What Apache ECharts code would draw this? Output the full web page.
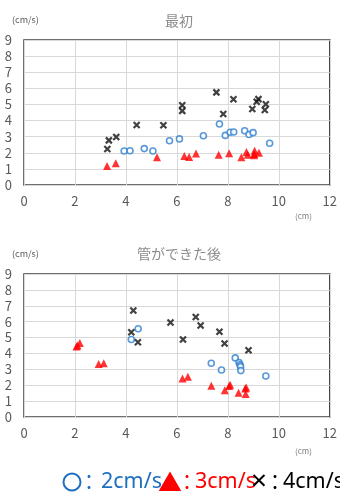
<!DOCTYPE html>
<html><head><meta charset="utf-8">
<script src="https://cdn.jsdelivr.net/npm/echarts@6/dist/echarts.min.js"></script>
<style>html,body{margin:0;padding:0;background:#fff}#c{width:340px;height:493px}</style>
</head><body><div id="c"></div>
<script>
// Chart 1: 最初
const title1 = '最初';
const c1_2cm = [[3.93,2.11],[4.16,2.13],[4.72,2.26],[5.06,2.11],[5.71,2.75],[6.10,2.86],[7.04,3.06],[7.67,3.79],[7.90,3.08],[8.09,3.27],[8.23,3.29],[8.66,3.37],[8.83,3.13],[8.99,3.25],[9.64,2.59]];
const c1_3cm = [[3.26,1.18],[3.60,1.35],[5.22,1.72],[6.29,1.80],[6.48,1.74],[6.75,1.95],[7.64,1.88],[8.05,1.97],[8.53,1.72],[8.73,2.05],[8.78,1.88],[9.03,1.93],[9.05,2.13],[9.03,1.84],[9.22,2.00]];
const c1_4cm = [[3.27,2.24],[3.33,2.77],[3.62,2.98],[4.42,3.73],[5.47,3.71],[6.21,4.95],[6.21,4.60],[7.55,5.75],[8.22,5.32],[7.82,4.41],[8.96,4.72],[9.13,5.17],[9.20,5.33],[9.49,5.01],[9.45,4.66]];
// Chart 2: 管ができた後
const title2 = '管ができた後';
const c2_2cm = [[4.48,5.55],[4.21,4.88],[7.35,3.38],[7.75,2.96],[8.29,3.72],[8.44,3.42],[8.48,3.28],[8.50,3.17],[8.51,2.92],[9.49,2.58]];
const c2_3cm = [[2.06,4.44],[2.10,4.50],[2.19,4.65],[2.93,3.34],[3.13,3.38],[6.22,2.43],[6.43,2.54],[7.35,1.97],[7.88,1.69],[8.05,1.95],[8.09,2.03],[8.42,1.52],[8.68,1.80],[8.72,1.86],[8.70,1.44]];
const c2_4cm = [[4.29,6.70],[4.21,5.34],[4.47,4.71],[5.75,5.95],[6.24,4.88],[6.74,6.29],[6.93,5.76],[7.67,5.36],[7.87,4.62],[8.81,4.20]];
const xTicks = [0,2,4,6,8,10,12];
const yTicks = [0,1,2,3,4,5,6,7,8,9];
const yUnit = '(cm/s)', xUnit = '(cm)';
const legendSymbols = ['○', '▲', '×'];
const legendLabels = ['2cm/s', '3cm/s', '4cm/s'];

const chart = echarts.init(document.getElementById('c'));
const FONT = '"Noto Sans CJK JP","Noto Sans",sans-serif';
const labelColor = '#595959';
const XSYM = 'path://M0,0L10,10M10,0L0,10';

function xAxis(i){return {gridIndex:i,type:'value',min:xTicks[0],max:xTicks[xTicks.length-1],interval:2,
  axisLine:{show:false},axisTick:{show:false},
  axisLabel:{color:labelColor,fontSize:13,fontFamily:FONT,margin:10},
  splitLine:{show:true,lineStyle:{color:'#d9d9d9',width:1}}};}
function yAxis(i){return {gridIndex:i,type:'value',min:yTicks[0],max:yTicks[yTicks.length-1],interval:1,
  axisLine:{show:false},axisTick:{show:false},
  axisLabel:{color:labelColor,fontSize:13,fontFamily:FONT,margin:12},
  splitLine:{show:true,lineStyle:{color:'#d9d9d9',width:1}}};}
function sers(i,a,b,c){return [
  {type:'scatter',xAxisIndex:i,yAxisIndex:i,data:a,symbol:'circle',symbolSize:6,
   itemStyle:{color:'#fff',borderColor:'#2e7fd0',borderWidth:1.6}},
  {type:'scatter',xAxisIndex:i,yAxisIndex:i,data:b,symbol:'triangle',symbolSize:8,
   itemStyle:{color:'#ff0000'}},
  {type:'scatter',xAxisIndex:i,yAxisIndex:i,data:c,symbol:XSYM,symbolSize:6,
   itemStyle:{color:'none',borderColor:'#111',borderWidth:2.2}}
];}
const LF = '"Noto Sans","Noto Sans CJK JP",sans-serif';
function lt(x,text,fill,size,font,align){return {type:'text',x:x,y:482,style:{text:text,fill:fill,fontSize:size,fontFamily:font||LF,textAlign:align||'left',align:align||'left',textVerticalAlign:'middle',verticalAlign:'middle'}};}

chart.setOption({
  animation:false,
  title:[
    {text:title1,left:174,top:9,textAlign:'center',textStyle:{color:'#8c8c8c',fontSize:14,fontWeight:'normal',fontFamily:FONT}},
    {text:title2,left:174,top:242,textAlign:'center',textStyle:{color:'#8c8c8c',fontSize:14,fontWeight:'normal',fontFamily:FONT}}
  ],
  grid:[
    {left:24,right:9,top:40,bottom:308,show:true,borderColor:'#404040',borderWidth:1.5,backgroundColor:'transparent'},
    {left:24,right:9,top:274,bottom:76,show:true,borderColor:'#404040',borderWidth:1.5,backgroundColor:'transparent'}
  ],
  xAxis:[xAxis(0),xAxis(1)],
  yAxis:[yAxis(0),yAxis(1)],
  series:[...sers(0,c1_2cm,c1_3cm,c1_4cm),...sers(1,c2_2cm,c2_3cm,c2_4cm)],
  graphic:[
    {type:'text',left:12,top:15,style:{text:yUnit,fill:'#595959',fontSize:9,fontFamily:FONT}},
    {type:'text',left:12,top:249,style:{text:yUnit,fill:'#595959',fontSize:9,fontFamily:FONT}},
    {type:'text',left:295,top:212,style:{text:xUnit,fill:'#7f7f7f',fontSize:8,fontFamily:FONT}},
    {type:'text',left:295,top:447,style:{text:xUnit,fill:'#7f7f7f',fontSize:8,fontFamily:FONT}},
    {type:'circle',shape:{cx:72,cy:482,r:8.5},style:{fill:'none',stroke:'#1f6fc0',lineWidth:2}},
    lt(89,'：','#1f6fc0',20,FONT,'center'),
    lt(101,legendLabels[0],'#1f6fc0',21.5),
    lt(170,legendSymbols[1],'#ff0000',24,FONT,'center'),
    lt(187,'：','#ff0000',20,FONT,'center'),
    lt(195,legendLabels[1],'#ff0000',21.5),
    lt(259,legendSymbols[2],'#000',28,LF,'center'),
    lt(275,'：','#000',20,FONT,'center'),
    lt(283,legendLabels[2],'#000',21.5)
  ]
});
</script></body></html>
